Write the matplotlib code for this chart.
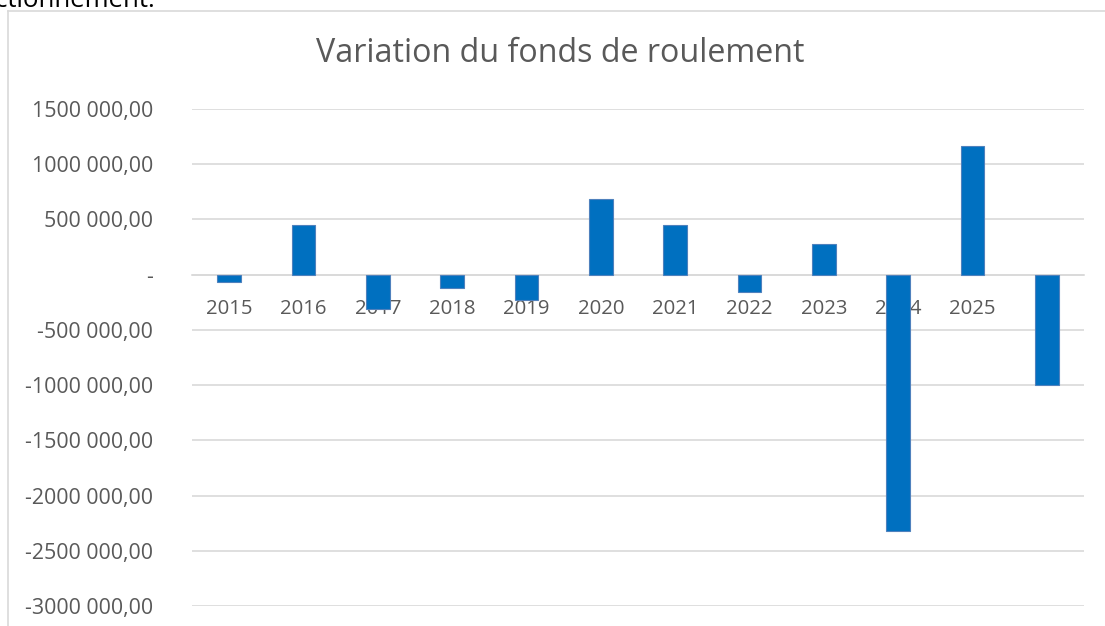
import matplotlib
matplotlib.use("Agg")
import matplotlib.pyplot as plt
from matplotlib.ticker import FuncFormatter
from matplotlib.lines import Line2D

# donnees
annees = ['2015', '2016', '2017', '2018', '2019', '2020', '2021', '2022',
          '2023', '2024', '2025', '']
variation = [-66000, 450000, -307000, -120000, -226000, 687000, 450000,
             -160000, 278000, -2325000, 1166000, -1003000]
graduations = [1500000, 1000000, 500000, 0, -500000, -1000000, -1500000,
               -2000000, -2500000, -3000000]

plt.rcParams['font.family'] = ['Open Sans', 'DejaVu Sans']
gris = '#595959'
grille = '#D9D9D9'


def format_fr(v, pos=None):
    if v == 0:
        return '-'
    s = '{:,.2f}'.format(abs(v))
    entier, dec = s.split('.')
    parts = entier.split(',')
    # Excel: "1500 000,00" (pas de separateur pour les milliers de millions)
    if len(parts) > 2:
        entier = ''.join(parts[:-1]) + ' ' + parts[-1]
    else:
        entier = ' '.join(parts)
    return ('-' if v < 0 else '') + entier + ',' + dec


fig = plt.figure(figsize=(11.05, 6.26), dpi=100)
# 1 500 000 a y=109 px, -3 000 000 a y=606 px
ax = fig.add_axes([192 / 1105, 1 - 606 / 626, 892 / 1105, 497 / 626])

x = list(range(len(annees)))
ax.bar(x, variation, width=0.32, color='#0070C0', edgecolor='#4F81BD',
       linewidth=0.8, zorder=3)

ax.set_xlim(-0.5, len(annees) - 0.5)
ax.set_ylim(-3000000, 1500000)
ax.set_yticks(graduations)
ax.yaxis.set_major_formatter(FuncFormatter(format_fr))
ax.yaxis.grid(True, color=grille, linewidth=1.2, zorder=0)
ax.tick_params(axis='y', length=0, pad=28, labelsize=15.4, labelcolor=gris)

ax.set_xticks(x)
ax.set_xticklabels(annees)
ax.tick_params(axis='x', length=0, pad=17.5, labelsize=14.7, labelcolor=gris)
ax.spines['bottom'].set_position(('data', 0))
ax.spines['bottom'].set_color(grille)
ax.spines['bottom'].set_linewidth(1.2)
for s in ['top', 'right', 'left']:
    ax.spines[s].set_visible(False)
for lab in ax.get_xticklabels():
    lab.set_zorder(4)

fig.text(560 / 1105, 1 - 54 / 626, 'Variation du fonds de roulement',
         ha='center', va='center', fontsize=23.2, color=gris)

# cadre du graphique (coupe en haut de l'image)
fig.add_artist(Line2D([8 / 1105, 8 / 1105], [0, 1 - 10.5 / 626],
                      transform=fig.transFigure, color=grille, linewidth=1.2))
fig.add_artist(Line2D([8 / 1105, 1], [1 - 10.5 / 626, 1 - 10.5 / 626],
                      transform=fig.transFigure, color=grille, linewidth=1.2))

# texte du document, coupe en haut
fig.text(155 / 1105, 1 - 7 / 626, 'fonctionnement.', ha='right',
         va='baseline', fontsize=18.5, color='black')

fig.savefig('out.png', dpi=100)
